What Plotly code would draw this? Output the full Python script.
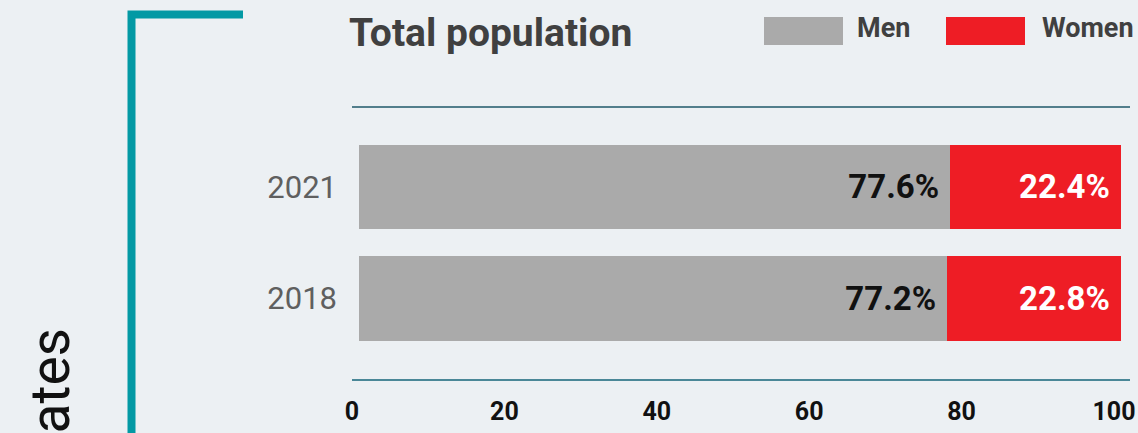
import plotly.graph_objects as go

# ---- data ----
years = ["2018", "2021"]
men = [77.2, 77.6]
women = [22.8, 22.4]
x_ticks = [0, 20, 40, 60, 80, 100]
title_text = "Total population"
side_text = "ates"

W, H = 1138, 433
L, R, T, B = 352, 8, 107, 53
PW, PH = W - L - R, H - T - B

def xp(px):
    return (px - L) / PW

def yp(py):
    return (H - B - py) / PH

BG = "#ecf0f3"
GREY = "#aaaaaa"
RED = "#ee1d25"
TEAL = "#0399a4"
NBSP = "\u00a0"

fig = go.Figure()
fig.add_trace(go.Bar(
    y=years, x=men, orientation="h", name="Men",
    marker=dict(color=GREY, line=dict(width=0)),
    texttemplate="%{x:.1f}%" + NBSP, textposition="inside", insidetextanchor="end",
    textangle=0,
    insidetextfont=dict(family="Roboto", size=33, color="#111111", weight="bold"),
    hoverinfo="skip",
))
fig.add_trace(go.Bar(
    y=years, x=women, orientation="h", name="Women",
    marker=dict(color=RED, line=dict(width=0)),
    texttemplate="%{x:.1f}%" + NBSP, textposition="inside", insidetextanchor="end",
    textangle=0,
    insidetextfont=dict(family="Roboto", size=33, color="#ffffff", weight="bold"),
    hoverinfo="skip",
))

shapes = [
    dict(type="line", xref="paper", yref="paper", x0=0, x1=1, y0=1, y1=1,
         line=dict(color="#1f5868", width=1.5)),
    dict(type="line", xref="paper", yref="paper", x0=0, x1=1, y0=0, y1=0,
         line=dict(color="#4a8797", width=2)),
    dict(type="path", xref="paper", yref="paper",
         path=f"M {xp(131.5)},{yp(440)} L {xp(131.5)},{yp(14.5)} L {xp(243)},{yp(14.5)}",
         line=dict(color=TEAL, width=8)),
    dict(type="rect", xref="paper", yref="paper", x0=xp(764), x1=xp(843), y0=yp(45), y1=yp(17),
         fillcolor=GREY, line=dict(width=0)),
    dict(type="rect", xref="paper", yref="paper", x0=xp(946), x1=xp(1025), y0=yp(45), y1=yp(17),
         fillcolor=RED, line=dict(width=0)),
]

annotations = [
    dict(text=title_text, xref="paper", yref="paper", x=xp(347), y=yp(32.5),
         xanchor="left", yanchor="middle", showarrow=False,
         font=dict(family="Roboto", size=39, color="#404040", weight="bold")),
    dict(text="Men", xref="paper", yref="paper", x=xp(855), y=yp(28.5),
         xanchor="left", yanchor="middle", showarrow=False,
         font=dict(family="Roboto", size=27, color="#404040", weight="bold")),
    dict(text="Women", xref="paper", yref="paper", x=xp(1040), y=yp(28.5),
         xanchor="left", yanchor="middle", showarrow=False,
         font=dict(family="Roboto", size=27, color="#404040", weight="bold")),
    dict(text=side_text, xref="paper", yref="paper", x=xp(49), y=yp(436),
         xanchor="center", yanchor="bottom", textangle=-90, showarrow=False,
         font=dict(family="Roboto", size=55, color="#111111")),
]

fig.update_layout(
    width=W, height=H,
    margin=dict(l=L, r=R, t=T, b=B, pad=0, autoexpand=False),
    paper_bgcolor=BG, plot_bgcolor=BG,
    barmode="stack", bargap=0.241,
    showlegend=False,
    shapes=shapes, annotations=annotations,
    xaxis=dict(
        range=[-7 / 7.62, (1130 - 359) / 7.62],
        tickvals=x_ticks, ticktext=[str(v) for v in x_ticks],
        showgrid=False, zeroline=False, showline=False, ticks="",
        ticklabelshift=-7, ticklabelstandoff=14, automargin=False,
        tickfont=dict(family="Roboto", size=25, color="#111111", weight="bold"),
        fixedrange=True,
    ),
    yaxis=dict(
        type="category", categoryorder="array", categoryarray=years,
        range=[-0.731, 1.717],
        showgrid=False, zeroline=False, showline=False, ticks="",
        ticklabelstandoff=14, automargin=False,
        tickfont=dict(family="Roboto", size=31, color="#5f5f5f"),
        fixedrange=True,
    ),
)

fig.write_html("out.html", config={"displayModeBar": False})
